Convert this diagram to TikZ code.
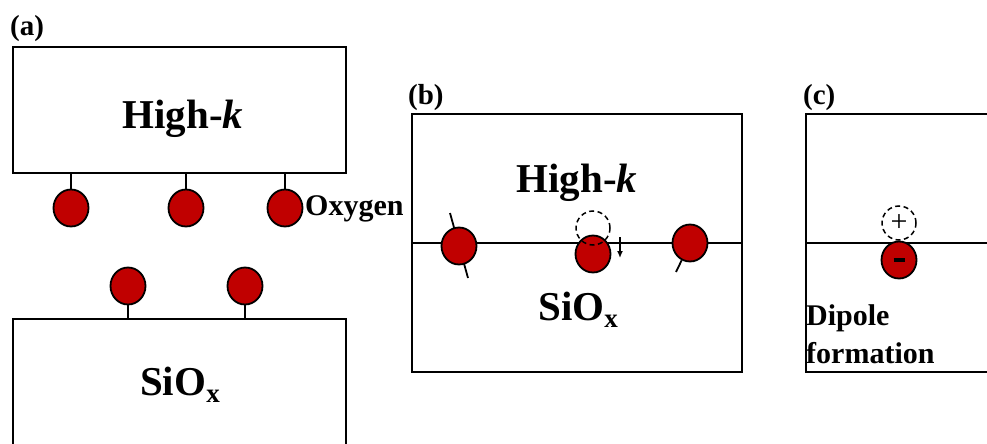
\documentclass[tikz,border=0pt]{standalone}
\usepackage{fontspec}
\setmainfont{Liberation Serif}
\usetikzlibrary{arrows.meta, backgrounds, shapes.geometric}
\definecolor{oxred}{HTML}{C00000}
\tikzset{
  layer/.style={draw, line width=2pt, inner sep=0pt},
  oxy/.style={ellipse, draw, fill=oxred, line width=1.8pt, minimum width=35pt, minimum height=37pt, inner sep=0pt},
  ghost/.style={circle, draw, dash pattern=on 5pt off 3.5pt, line width=1.5pt, minimum size=34pt, inner sep=0pt},
  bond/.style={line width=1.8pt},
  push/.style={-{Latex[length=7pt, width=6pt]}, line width=1.4pt},
  tag/.style={anchor=base west, inner sep=0pt, font=\bfseries\fontsize{29}{29}\selectfont},
  big/.style={anchor=base, inner sep=0pt, font=\bfseries\fontsize{41}{41}\selectfont},
  small/.style={inner sep=0pt, font=\bfseries\fontsize{30}{38}\selectfont},
}
\newcommand{\siox}{SiO\raisebox{-7pt}{\fontsize{27}{27}\selectfont x}}

\begin{document}
\begin{tikzpicture}[x=1pt, y=-1pt]
  \useasboundingbox (0,0) rectangle (987,444);
  \clip (0,0) rectangle (987,444);

  % (a): the two layers apart, oxygens on each side
  \node[tag] (tagA) at (10,36) {(a)};
  \node[layer, minimum width=333pt, minimum height=126pt] (hkA) at (179.5,110) {};
  \node[layer, minimum width=333pt, minimum height=151pt] (siA) at (179.5,394.5) {};
  \node[big] (txtHkA) at (183,128) {High-\textit{k}};
  \node[big, anchor=base west] (txtSiA) at (140,395) {\siox};
  \foreach \x [count=\i] in {71,186,285} {
    \node[oxy] (oA\i) at (\x,208) {};
    \draw[bond] (oA\i.north) -- (oA\i.north |- hkA.south);
  }
  \foreach \x [count=\i] in {128,245} {
    \node[oxy] (oS\i) at (\x,286) {};
    \draw[bond] (oS\i.south) -- (oS\i.south |- siA.north);
  }
  \node[small, anchor=base west] (oxLbl) at (305,215) {Oxygen};

  % (b): joined interface, one oxygen pushed down
  \node[tag] (tagB) at (408,104) {(b)};
  \node[layer, minimum width=330pt, minimum height=258pt] (boxB) at (577,243) {};
  \draw[bond] (boxB.west) -- (boxB.east);
  \node[big] (txtHkB) at (577,192) {High-\textit{k}};
  \node[big, anchor=base west] (txtSiB) at (538,320) {\siox};
  \node[oxy] (oB1) at (459,246) {};
  \node[oxy] (oB2) at (593,254) {};
  \node[oxy] (oB3) at (690,243) {};
  \node[ghost] (gB) at (593,228) {};
  \begin{scope}[on background layer]
    \draw[bond] (oB1) ++(-9,-33) -- ++(18,65);
    \draw[bond] (oB3) -- ++(-14,29);
  \end{scope}
  \coordinate (pushB) at (620,237);
  \draw[push] (pushB) -- ++(0,21);

  % (c): dipole at the interface
  \node[tag] (tagC) at (803,104) {(c)};
  \node[layer, minimum width=210pt, minimum height=258pt] (boxC) at (911,243) {};
  \draw[bond] (boxC.west) -- (boxC.east);
  \node[ghost, font=\fontsize{30}{30}\selectfont] (gC) at (899,223) {+};
  \node[oxy] (oC) at (899,260) {\rule{11pt}{4.5pt}};
  \node[small, anchor=north west, align=left] (dipole) at (806,304) {Dipole\\formation};
\end{tikzpicture}
\end{document}
